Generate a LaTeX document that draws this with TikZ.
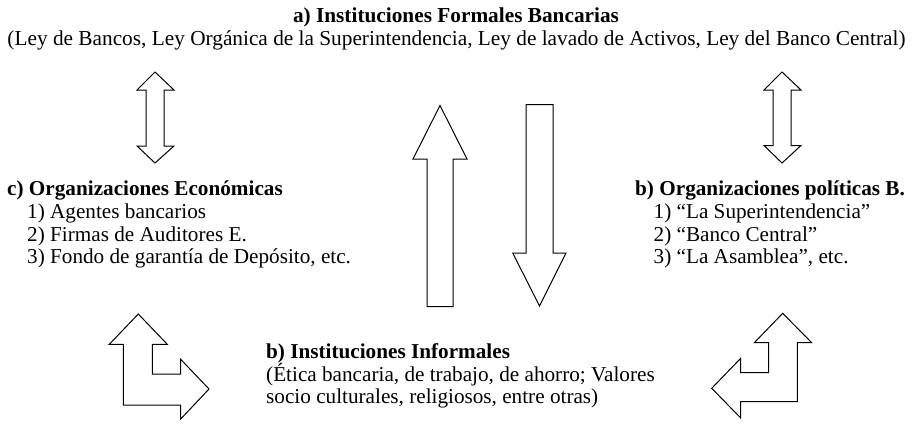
\documentclass[tikz,border=0pt]{standalone}
\usepackage{fontspec}
\setmainfont{Liberation Serif}
\begin{document}
\begin{tikzpicture}[x=1pt,y=-1pt,
  txt/.style={inner sep=0pt,anchor=base west,font=\fontsize{21.2}{23}\selectfont},
  ctxt/.style={inner sep=0pt,anchor=base,font=\fontsize{21.3}{23}\selectfont},
  blockarrow/.style={draw=black,line width=1pt,fill=white,line join=miter}]
\useasboundingbox (0,0) rectangle (912,424);

% top
\node[ctxt] (t0) at (456,22.5) {\textbf{a) Instituciones Formales Bancarias}};
\node[ctxt] (t1) at (456.5,45) {(Ley de Bancos, Ley Orgánica de la Superintendencia, Ley de lavado de Activos, Ley del Banco Central)};

% left block
\node[txt] (c0) at (7,195) {\textbf{c) Organizaciones Económicas}};
\node[txt] (c1) at (27,218.3) {1) Agentes bancarios};
\node[txt] (c2) at (27,241) {2) Firmas de Auditores E.};
\node[txt] (c3) at (27,263.5) {3) Fondo de garantía de Depósito, etc.};

% right block
\node[txt] (p0) at (635,195) {\textbf{b) Organizaciones políticas B.}};
\node[txt] (p1) at (653.5,218.3) {1) “La Superintendencia”};
\node[txt] (p2) at (653.5,241) {2) “Banco Central”};
\node[txt] (p3) at (653.5,263.5) {3) “La Asamblea”, etc.};

% bottom block
\node[txt] (i0) at (266,358.3) {\textbf{b) Instituciones Informales}};
\node[txt] (i1) at (266,381.7) {(Ética bancaria, de trabajo, de ahorro; Valores};
\node[txt] (i2) at (266,403.3) {socio culturales, religiosos, entre otras)};

% left double arrow
\draw[blockarrow] (155,72) -- (174,90) -- (164,90) -- (164,146) -- (174,146) -- (155,163)
  -- (137,146) -- (146,146) -- (146,90) -- (137,90) -- cycle;
% right double arrow
\draw[blockarrow] (782,72) -- (801,90) -- (791,90) -- (791,145.5) -- (801,145.5) -- (782,163)
  -- (764,145.5) -- (773,145.5) -- (773,90) -- (764,90) -- cycle;

% up arrow
\draw[blockarrow] (440,105.5) -- (467,159) -- (453,159) -- (453,306.5) -- (427,306.5)
  -- (427,159) -- (413,159) -- cycle;
% down arrow
\draw[blockarrow] (526,104.7) -- (553,104.7) -- (553,253) -- (566,253) -- (539.5,306)
  -- (512.7,253) -- (526,253) -- cycle;

% bottom-left bent arrow
\draw[blockarrow] (138.3,314) -- (167.3,344.3) -- (152.3,344.3) -- (152.3,374) -- (180.7,374)
  -- (180.7,359.3) -- (209,389) -- (180.7,419) -- (180.7,405) -- (123.3,405)
  -- (123.3,344.3) -- (109.3,344.3) -- cycle;
% bottom-right bent arrow
\draw[blockarrow] (782.7,313.3) -- (811.7,342.7) -- (797.3,342.7) -- (797.3,401.7) -- (740.7,401.7)
  -- (740.7,418) -- (711.7,388.3) -- (740.7,358.3) -- (740.7,372.7) -- (768.7,372.7)
  -- (768.7,342.7) -- (754.3,342.7) -- cycle;
\end{tikzpicture}
\end{document}
